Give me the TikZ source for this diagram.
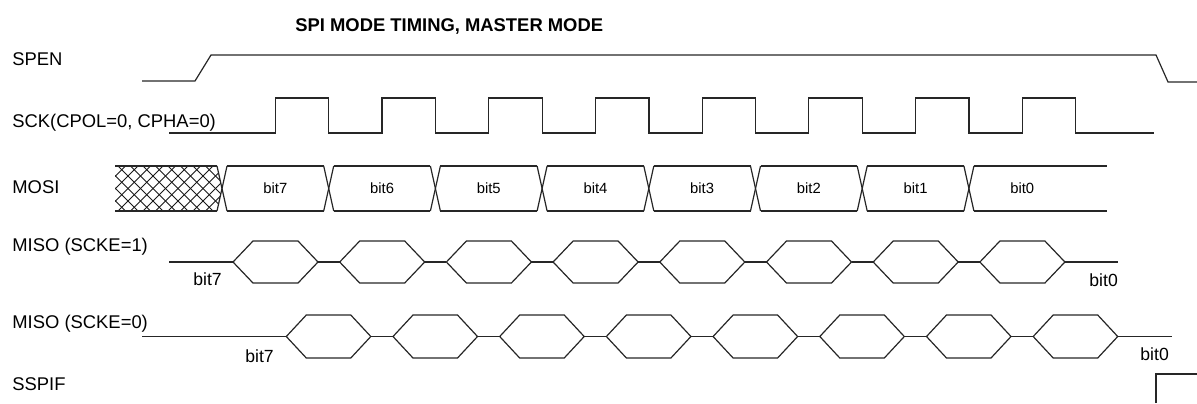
\documentclass[tikz,border=0pt]{standalone}
\usepackage{fontspec}
\setmainfont{Liberation Sans}
\begin{document}
\begin{tikzpicture}[x=0.5pt,y=-0.5pt,
  wave/.style={line width=0.6pt, draw=black!85, line join=miter},
  hatch/.style={line width=0.45pt, draw=black!90},
  lbl/.style={anchor=base west, inner sep=0pt, font=\fontsize{9.2}{11}\selectfont},
  cell/.style={anchor=center, inner sep=0pt, font=\fontsize{7.4}{9}\selectfont},
  bitlbl/.style={anchor=base west, inner sep=0pt, font=\fontsize{8.8}{10}\selectfont},
  ttl/.style={anchor=base west, inner sep=0pt, font=\bfseries\fontsize{9.2}{11}\selectfont}]
\useasboundingbox (0,0) rectangle (1197,403);

% title and row labels
\node[ttl] (title) at (295,31.5) {SPI MODE TIMING, MASTER MODE};
\node[lbl] (spen)  at (12,65.5) {SPEN};
\node[lbl] (sck)   at (12,127) {SCK(CPOL=0, CPHA=0)};
\node[lbl] (mosi)  at (12,193) {MOSI};
\node[lbl] (miso1) at (12,251.5) {MISO (SCKE=1)};
\node[lbl] (miso0) at (12,328) {MISO (SCKE=0)};
\node[lbl] (sspif) at (12,390) {SSPIF};

% SPEN
\draw[wave] (142,81) -- (195,81) -- (211,55) -- (1156,55) -- (1168,82) -- (1197,82);

% SCK
\draw[wave] (169,133) \foreach \k in {0,...,7}{ -- ({275.3+106.7*\k},133) -- ++(0,-35) -- ++(53.5,0) -- ++(0,35) } -- (1154,133);

% MOSI hatched region
\begin{scope}
  \clip (115,166) -- (217,166) -- (222,188.5) -- (217,211) -- (115,211) -- cycle;
  \foreach \i in {-4,...,9}{
    \draw[hatch] ({118+12.5*\i},166) -- ++(45,45);
    \draw[hatch] ({118+12.5*\i},211) -- ++(45,-45);
  }
\end{scope}
\draw[wave, line width=0.9pt] (115,166) -- (217,166);
\draw[wave, line width=0.9pt] (115,211) -- (217,211);

% MOSI crossings and cells
\foreach \k in {0,...,7}{
  \pgfmathsetmacro\c{222+106.7*\k}
  \draw[wave] (\c-5,166) -- (\c+5,211);
  \draw[wave] (\c-5,211) -- (\c+5,166);
}
\foreach \k in {0,...,6}{
  \pgfmathsetmacro\c{222+106.7*\k}
  \draw[wave] (\c+5,166) -- (\c+101.7,166);
  \draw[wave] (\c+5,211) -- (\c+101.7,211);
}
\draw[wave] (973.9,166) -- (1107,166);
\draw[wave] (973.9,211) -- (1107,211);
\foreach \k/\b in {0/7,1/6,2/5,3/4,4/3,5/2,6/1,7/0}{
  \node[cell] (mb\b) at ({275.35+106.7*\k},188.5) {bit\b};
}

% MISO (SCKE=1)
\foreach \k in {0,...,7}{
  \pgfmathsetmacro\L{233+106.7*\k}
  \draw[wave] (\L,262) -- ++(20,-21) -- ++(45,0) -- ++(20,21) -- ++(-20,21) -- ++(-45,0) -- cycle;
}
\draw[wave] (169,262) -- (233,262);
\foreach \k in {0,...,6}{
  \pgfmathsetmacro\L{233+106.7*\k}
  \draw[wave] (\L+85,262) -- (\L+106.7,262);
}
\draw[wave] (1064.9,262) -- (1118,262);
\node[bitlbl] (s1b7) at (193,285) {bit7};
\node[bitlbl] (s1b0) at (1089,286) {bit0};

% MISO (SCKE=0)
\foreach \k in {0,...,7}{
  \pgfmathsetmacro\L{286.3+106.7*\k}
  \draw[wave] (\L,336.5) -- ++(20,-21.5) -- ++(44.5,0) -- ++(20,21.5) -- ++(-20,21.5) -- ++(-44.5,0) -- cycle;
}
\draw[wave] (142,336.5) -- (286.3,336.5);
\foreach \k in {0,...,6}{
  \pgfmathsetmacro\L{286.3+106.7*\k}
  \draw[wave] (\L+84.5,336.5) -- (\L+106.7,336.5);
}
\draw[wave] (1117.7,336.5) -- (1172,336.5);
\node[bitlbl] (s0b7) at (245,362) {bit7};
\node[bitlbl] (s0b0) at (1140,360) {bit0};

% SSPIF
\draw[wave] (1156,403) -- (1156,374) -- (1197,374);
\end{tikzpicture}
\end{document}
